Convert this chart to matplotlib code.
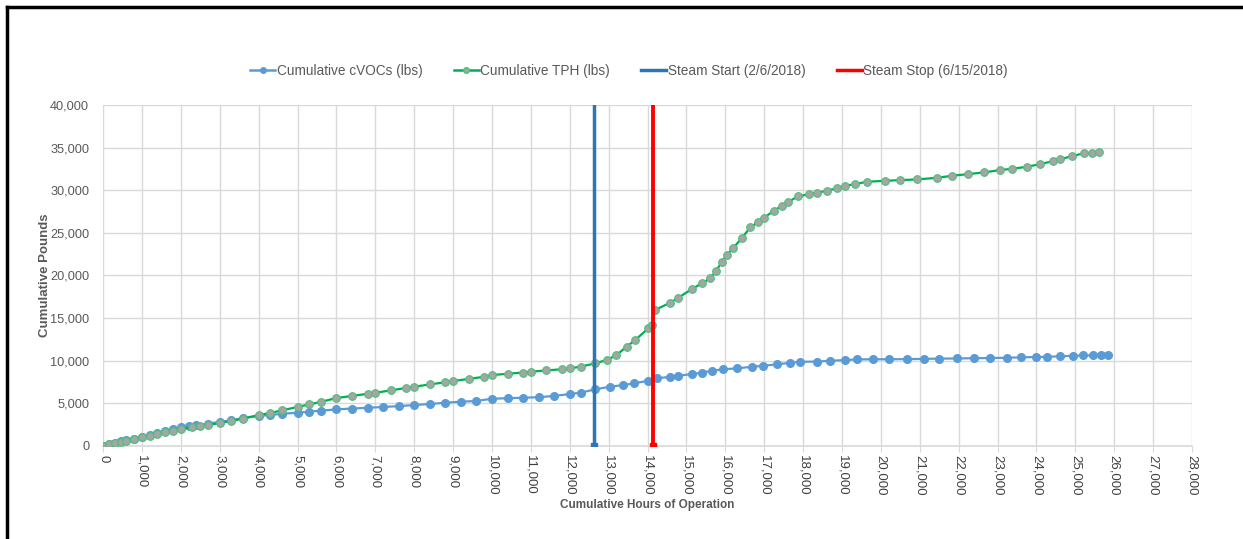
import matplotlib.pyplot as plt
from matplotlib.lines import Line2D
from matplotlib.ticker import MultipleLocator, FuncFormatter

plt.rcParams['font.family'] = ['Liberation Sans', 'DejaVu Sans']

# cumulative hours / cumulative pounds
voc_hours = [0, 150, 300, 450, 600, 800, 1000, 1200, 1400, 1600, 1800, 2000, 2200, 2400,
             2700, 3000, 3300, 3600, 4000, 4300, 4600, 5000, 5300, 5600, 6000, 6400,
             6800, 7200, 7600, 8000, 8400, 8800, 9200, 9600, 10000, 10400, 10800, 11200,
             11600, 12000, 12300, 12650, 13030, 13380, 13640, 14020, 14240, 14580, 14790,
             15140, 15390, 15650, 15950, 16290, 16680, 16970, 17320, 17660, 17920, 18350,
             18690, 19080, 19380, 19800, 20200, 20670, 21100, 21500, 21950, 22400, 22800,
             23240, 23600, 24000, 24270, 24600, 24950, 25200, 25450, 25650, 25850]
voc_lbs = [0, 180, 350, 520, 680, 850, 1000, 1250, 1500, 1750, 1950, 2200, 2300, 2400,
           2600, 2800, 3000, 3250, 3490, 3620, 3750, 3880, 4000, 4120, 4270, 4370,
           4460, 4550, 4650, 4780, 4900, 5050, 5170, 5260, 5520, 5580, 5640, 5700,
           5850, 6070, 6250, 6620, 6930, 7130, 7320, 7630, 7910, 8100, 8220,
           8420, 8570, 8810, 8970, 9090, 9270, 9390, 9550, 9740, 9860, 9880,
           9980, 10060, 10140, 10150, 10160, 10170, 10200, 10230, 10250, 10280, 10300,
           10330, 10380, 10420, 10450, 10500, 10570, 10600, 10620, 10640, 10650]

tph_hours = [0, 150, 300, 450, 600, 800, 1000, 1200, 1400, 1600, 1800, 2000, 2300, 2500,
             2700, 3000, 3300, 3600, 4000, 4300, 4600, 5000, 5300, 5600, 6000, 6400,
             6800, 7000, 7400, 7800, 8000, 8400, 8800, 9000, 9400, 9800, 10000, 10400,
             10800, 11000, 11400, 11800, 12000, 12300, 12650, 12950, 13200, 13460, 13680,
             14020, 14110, 14190, 14580, 14790, 15140, 15390, 15610, 15760, 15910, 16040,
             16190, 16420, 16640, 16850, 17000, 17240, 17450, 17620, 17880, 18140, 18350,
             18610, 18860, 19080, 19340, 19640, 20110, 20490, 20920, 21440, 21820, 22250,
             22640, 23060, 23360, 23750, 24090, 24430, 24600, 24910, 25210, 25420, 25620]
tph_lbs = [0, 150, 300, 450, 600, 800, 1000, 1200, 1400, 1600, 1780, 1960, 2200, 2310,
           2450, 2660, 2900, 3200, 3600, 3850, 4150, 4560, 4850, 5150, 5600, 5850,
           6100, 6220, 6500, 6800, 6930, 7200, 7450, 7600, 7850, 8100, 8300, 8450,
           8600, 8690, 8850, 8980, 9090, 9300, 9680, 10060, 10650, 11620, 12400,
           13780, 14170, 15930, 16790, 17380, 18400, 19060, 19650, 20510, 21600, 22390,
           23170, 24350, 25640, 26300, 26770, 27590, 28140, 28650, 29310, 29510, 29700,
           29940, 30220, 30520, 30720, 31000, 31110, 31190, 31270, 31460, 31700, 31900,
           32090, 32370, 32520, 32750, 33070, 33420, 33620, 34010, 34330, 34400, 34510]

steam_start = 12620
steam_stop = 14140

voc_color = '#5B9BD5'
tph_color = '#00B050'
start_color = '#2E75B6'
stop_color = '#FF0000'

fig = plt.figure(figsize=(12.43, 5.39), dpi=100)
ax = fig.add_axes([0.0829, 0.173, 0.8761, 0.632])

ax.plot(voc_hours, voc_lbs, color=voc_color, lw=1.6, marker='o', ms=5.5,
        mfc=voc_color, mec=voc_color, zorder=3)
ax.plot(tph_hours, tph_lbs, color=tph_color, lw=1.6, marker='o', ms=5.5,
        mfc='#A5A5A5', mec='#4CC07A', mew=0.8, zorder=4)
ax.plot([steam_start, steam_start], [0, 40000], color=start_color, lw=2.5,
        marker='s', ms=4, markevery=[0], zorder=5)
ax.plot([steam_stop, steam_stop], [0, 40000], color=stop_color, lw=2.8,
        marker='s', ms=4, markevery=[0], zorder=5)

ax.set_xlim(0, 28000)
ax.set_ylim(0, 40000)
ax.xaxis.set_major_locator(MultipleLocator(1000))
ax.yaxis.set_major_locator(MultipleLocator(5000))
fmt = FuncFormatter(lambda v, p: f'{int(v):,}')
ax.xaxis.set_major_formatter(fmt)
ax.yaxis.set_major_formatter(fmt)
ax.grid(True, color='#D9D9D9', lw=1)
ax.set_axisbelow(True)
for s in ['top', 'right', 'left']:
    ax.spines[s].set_visible(False)
ax.spines['bottom'].set_color('#D9D9D9')
ax.spines['bottom'].set_linewidth(1.2)
ax.tick_params(axis='x', colors='#D9D9D9', length=4, labelcolor='#404040',
               labelsize=9.5, labelrotation=-90, pad=3)
ax.tick_params(axis='y', length=0, labelcolor='#595959', labelsize=9.2, pad=10)

ax.set_xlabel('Cumulative Hours of Operation', fontsize=8.5, fontweight='bold',
              color='#595959', labelpad=2)
ax.set_ylabel('Cumulative Pounds', fontsize=9.5, fontweight='bold', color='#595959')
ax.yaxis.set_label_coords(-0.048, 0.5)

handles = [
    Line2D([], [], color=voc_color, lw=1.8, marker='o', ms=4, mfc=voc_color, mec=voc_color),
    Line2D([], [], color=tph_color, lw=1.8, marker='o', ms=4, mfc='#A5A5A5', mec='#4CC07A'),
    Line2D([], [], color=start_color, lw=2.5),
    Line2D([], [], color=stop_color, lw=2.5),
]
labels = ['Cumulative cVOCs (lbs)', 'Cumulative TPH (lbs)',
          'Steam Start (2/6/2018)', 'Steam Stop (6/15/2018)']
leg = fig.legend(handles, labels, loc='center', bbox_to_anchor=(0.506, 0.868), ncol=4,
                 frameon=False, fontsize=9.8, handlelength=1.85, columnspacing=2.3,
                 handletextpad=0.1)
for t in leg.get_texts():
    t.set_color('#595959')

# black frame edge at top and left
fig.add_artist(Line2D([0.0056, 1.0], [0.987, 0.987], color='black', lw=2.5,
                      transform=fig.transFigure))
fig.add_artist(Line2D([0.0056, 0.0056], [0.0, 0.987], color='black', lw=2.5,
                      transform=fig.transFigure))

fig.savefig('out.png', dpi=100)
